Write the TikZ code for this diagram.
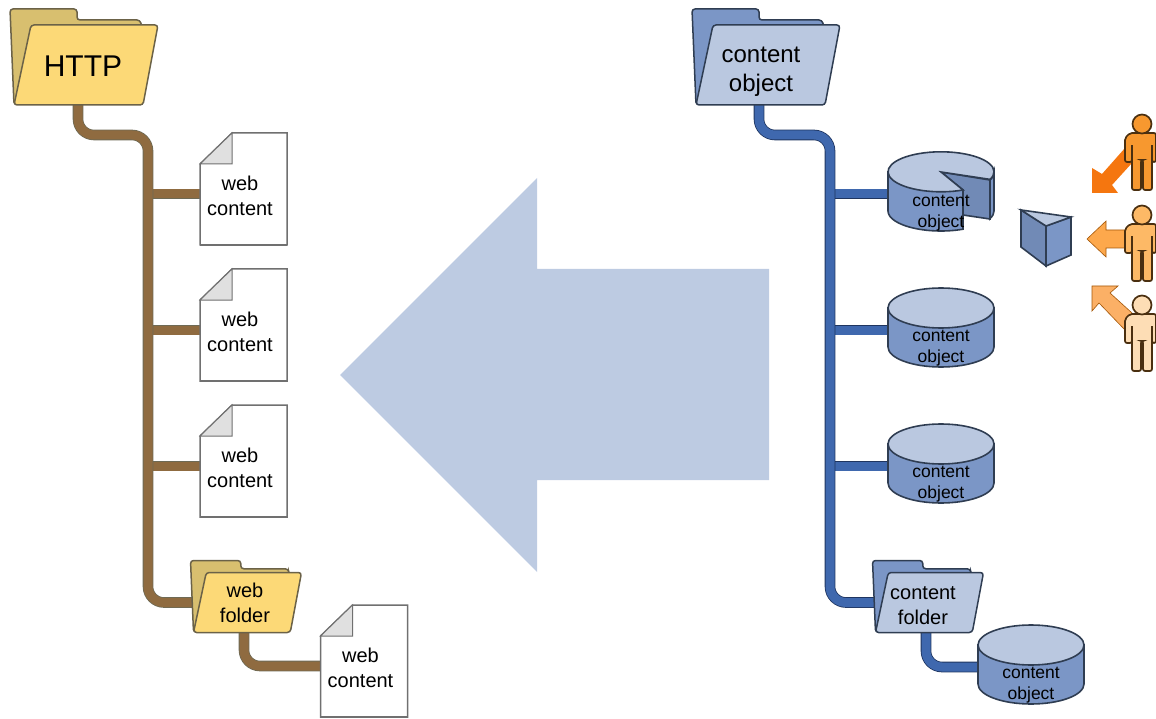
\documentclass[tikz,border=0pt]{standalone}
\usepackage{fontspec}
\setmainfont{Liberation Sans}
\usepackage{tikz}
\usetikzlibrary{positioning}
\pgfdeclarelayer{nodelayer}
\pgfdeclarelayer{edgelayer}
\pgfsetlayers{edgelayer,main,nodelayer}
\definecolor{wirebrown}{HTML}{8F6B40}
\definecolor{wirebrownline}{HTML}{6E6A55}
\definecolor{wireblue}{HTML}{3F68AE}
\definecolor{wireblueline}{HTML}{1F3560}
\definecolor{folderyellow}{HTML}{FCD977}
\definecolor{folderyellowback}{HTML}{D8BF6F}
\definecolor{folderyellowline}{HTML}{6B6248}
\definecolor{folderblue}{HTML}{BAC8E0}
\definecolor{folderblueback}{HTML}{7B96C6}
\definecolor{darkline}{HTML}{2F3D52}
\definecolor{bigarrow}{HTML}{BDCBE2}
\definecolor{docline}{HTML}{707070}
\definecolor{personline}{HTML}{4A2F10}
\tikzset{brownwire/.style={draw=wirebrownline, line width=.8pt, double=wirebrown, double distance=9pt, rounded corners=16pt}}
\tikzset{bluewire/.style={draw=wireblueline, line width=.8pt, double=wireblue, double distance=9pt, rounded corners=16pt}}
\tikzset{yellowback/.style={draw=folderyellowline, line width=1.5pt, fill=folderyellowback, rounded corners=3pt}}
\tikzset{yellowfront/.style={draw=folderyellowline, line width=1.5pt, fill=folderyellow, rounded corners=3pt}}
\tikzset{blueback/.style={draw=darkline, line width=1.5pt, fill=folderblueback, rounded corners=3pt}}
\tikzset{bluefront/.style={draw=darkline, line width=1.5pt, fill=folderblue, rounded corners=3pt}}
\tikzset{label/.style={inner sep=0pt, align=center, text=black}}
\tikzset{lowered/.style={execute at begin node=\rule{0pt}{#1}}}
\tikzset{bigfolder/.style={label, minimum height=80pt, font=\fontsize{24}{29}\selectfont}}
\tikzset{smallfolder/.style={label, minimum height=59pt, font=\fontsize{20}{25}\selectfont}}
\tikzset{docbox/.style={label, lowered=44pt, minimum height=102pt, font=\fontsize{20}{25}\selectfont}}
\tikzset{cylbox/.style={inner sep=0pt, minimum width=106pt, minimum height=40pt}}
\tikzset{cyllabel/.style={label, font=\fontsize{17.5}{21.5}\selectfont}}
\tikzset{cylshape/.style={draw=darkline, line width=1.6pt, fill=folderblueback}}
\tikzset{cyltop/.style={draw=darkline, line width=1.6pt, fill=folderblue}}
\tikzset{personshape/.style={draw=personline, line width=1.7pt, rounded corners=2pt}}
% folder: x, y, scale, back style, front style
\newcommand{\foldershape}[5]{
    \begin{scope}[shift={(#1,#2)}, scale=#3]
        \path [style=#4] (-76,-56) -- (-9,-56) -- (-9,-45) -- (54,-45) -- (56,-38) -- (-72,40) -- cycle;
        \path [style=#5] (-55,-40) -- (72,-40) -- (57,40) -- (-72,40) -- cycle;
    \end{scope}
}
% sheet of paper round the docbox node
\newcommand{\docshape}[1]{
    \begin{scope}[shift={(#1)}]
        \draw [draw=docline, line width=1.5pt, fill=white] (-43.5,-30) -- (-11.5,-61) -- (43.5,-61) -- (43.5,51) -- (-43.5,51) -- cycle;
        \draw [draw=docline, line width=1pt, fill=black!12] (-43.5,-30) -- (-11.5,-61) -- (-11.5,-30) -- cycle;
        \draw [draw=docline, line width=2.6pt] (-43.5,51) -- (43.5,51);
    \end{scope}
}
\newcommand{\cylshape}[1]{
    \begin{scope}[shift={(#1)}]
        \path [style=cylshape] (-53,-22) -- (-53,17) arc [start angle=180, end angle=360, x radius=53pt, y radius=20pt] -- (53,-22) -- cycle;
        \path [style=cyltop] (0,-22) ellipse [x radius=53pt, y radius=20pt];
    \end{scope}
}
% head and the part of the body that stays on the page
\newcommand{\personshape}[2]{
    \begin{scope}[shift={(1142,#1)}]
        \path [style=personshape, fill=#2] (14,9) -- (-12,9) -- (-17,14) -- (-17,38) -- (-10,38) -- (-10,20) -- (-10,66) -- (-1,66) -- (-1,36) -- (1,36) -- (1,66) -- (10,66) -- (10,20) -- (10,38) -- (14,38) -- cycle;
        \path [style=personshape, fill=#2] (0,0) circle [radius=9.5pt];
    \end{scope}
}
\begin{document}
\begin{tikzpicture}[x=1pt, y=-1pt]
    \useasboundingbox (0,0) rectangle (1156,719);
    \fill [bigarrow] (340,375) -- (537,178) -- (537,269) -- (769,269) -- (769,480) -- (537,480) -- (537,572) -- cycle;
    \begin{pgfonlayer}{nodelayer}
        \foldershape{86}{65}{1}{yellowback}{yellowfront}
        \node [style=bigfolder, minimum width=138pt, font=\fontsize{30}{36}\selectfont] (http) at (83,66) {HTTP};
        \docshape{243.5,194}
        \node [style=docbox, minimum width=80pt] (web1) at (240,194) {web\\content};
        \docshape{243.5,330}
        \node [style=docbox, minimum width=80pt] (web2) at (240,330) {web\\content};
        \docshape{243.5,466}
        \node [style=docbox, minimum width=80pt] (web3) at (240,466) {web\\content};
        \foldershape{247.5}{602.5}{.75}{yellowback}{yellowfront}
        \node [style=smallfolder, lowered=41pt, minimum width=104pt] (webfolder) at (245,602.5) {web\\folder};
        \docshape{364,666}
        \node [style=docbox, minimum width=81pt] (web4) at (360.5,666) {web\\content};
        \foldershape{768}{65}{1}{blueback}{bluefront}
        \node [style=bigfolder, minimum width=132pt] (object) at (761,72) {content\\object};
        % cylinder with the piece taken out
        \begin{scope}[shift={(941,194)}]
            \path [style=cylshape, fill=black!8!folderblueback] (0,-22) -- (49,-14) -- (49,25) -- (22,21) -- (22,-4) -- cycle;
            \path [style=cylshape] (49,-14) arc [start angle=337.7, end angle=360, x radius=53pt, y radius=20pt] -- (53,17) arc [start angle=360, end angle=337.7, x radius=53pt, y radius=20pt] -- cycle;
            \path [style=cylshape] (-53,-22) -- (-53,17) arc [start angle=180, end angle=294.5, x radius=53pt, y radius=20pt] -- (22,-4) -- cycle;
            \path [style=cyltop] (0,-22) -- (22,-4) arc [start angle=294.5, end angle=-22.3, x radius=53pt, y radius=20pt] -- cycle;
        \end{scope}
        \node [style=cylbox] (cyl1) at (941,194) {};
        \node [style=cyllabel] (cyltext1) at (941,213) {content\\object};
        \cylshape{941,330}
        \node [style=cylbox] (cyl2) at (941,330) {};
        \node [style=cyllabel] (cyltext2) at (941,348) {content\\object};
        \cylshape{941,466}
        \node [style=cylbox] (cyl3) at (941,466) {};
        \node [style=cyllabel] (cyltext3) at (941,484) {content\\object};
        \foldershape{929.5}{602.5}{.75}{blueback}{bluefront}
        \node [style=smallfolder, lowered=43.5pt, minimum width=96pt] (contentfolder) at (923,602.5) {content\\folder};
        \cylshape{1031,667}
        \node [style=cylbox] (cyl4) at (1031,667) {};
        \node [style=cyllabel] (cyltext4) at (1031,685) {content\\object};
        % piece taken out of the cylinder
        \path [style=cylshape, fill=black!8!folderblueback] (1021,210) -- (1046,226) -- (1046,266) -- (1021,247) -- cycle;
        \path [style=cylshape] (1046,226) -- (1071,217) -- (1071,255) -- (1046,266) -- cycle;
        \path [style=cyltop] (1021,210) -- (1071,217) -- (1046,226) -- cycle;
        % arrows, then the people in front of them
        \fill [fill={rgb,255:red,245;green,118;blue,15}] (1092,193) -- (1092,168) -- (1102,174) -- (1125,148) -- (1132,163) -- (1112,185) -- (1118,193) -- cycle;
        \filldraw [draw=personline!50!orange, line width=.6pt, fill={rgb,255:red,253;green,168;blue,76}] (1087,239) -- (1106,221) -- (1106,230) -- (1125,230) -- (1125,248) -- (1106,248) -- (1106,257) -- cycle;
        \filldraw [draw=personline!50!orange, line width=.6pt, fill={rgb,255:red,251;green,176;blue,102}] (1092,286) -- (1118,286) -- (1110,293) -- (1132,313) -- (1125,330) -- (1099,303) -- (1092,311) -- cycle;
        \personshape{124}{{rgb,255:red,247;green,152;blue,47}}
        \personshape{215}{{rgb,255:red,253;green,185;blue,102}}
        \personshape{305}{{rgb,255:red,253;green,221;blue,181}}
    \end{pgfonlayer}
    \begin{pgfonlayer}{edgelayer}
        \coordinate (httpout) at (78,100);
        \coordinate (brown1) at (148,135);
        \coordinate (folderout) at (244,628);
        \coordinate (objectout) at (759,100);
        \coordinate (blue1) at (830,135);
        \coordinate (contentout) at (926,628);
        \draw [style=brownwire] (brown1 |- web1.west) to (web1.west);
        \draw [style=brownwire] (brown1 |- web2.west) to (web2.west);
        \draw [style=brownwire] (brown1 |- web3.west) to (web3.west);
        \draw [style=brownwire] (httpout) |- (brown1) |- (webfolder.west);
        \draw [style=brownwire] (folderout) |- (web4.west);
        \draw [style=bluewire] (blue1 |- cyl1.west) to (cyl1.west);
        \draw [style=bluewire] (blue1 |- cyl2.west) to (cyl2.west);
        \draw [style=bluewire] (blue1 |- cyl3.west) to (cyl3.west);
        \draw [style=bluewire] (objectout) |- (blue1) |- (contentfolder.west);
        \draw [style=bluewire] (contentout) |- (cyl4.west);
    \end{pgfonlayer}
\end{tikzpicture}
\end{document}
